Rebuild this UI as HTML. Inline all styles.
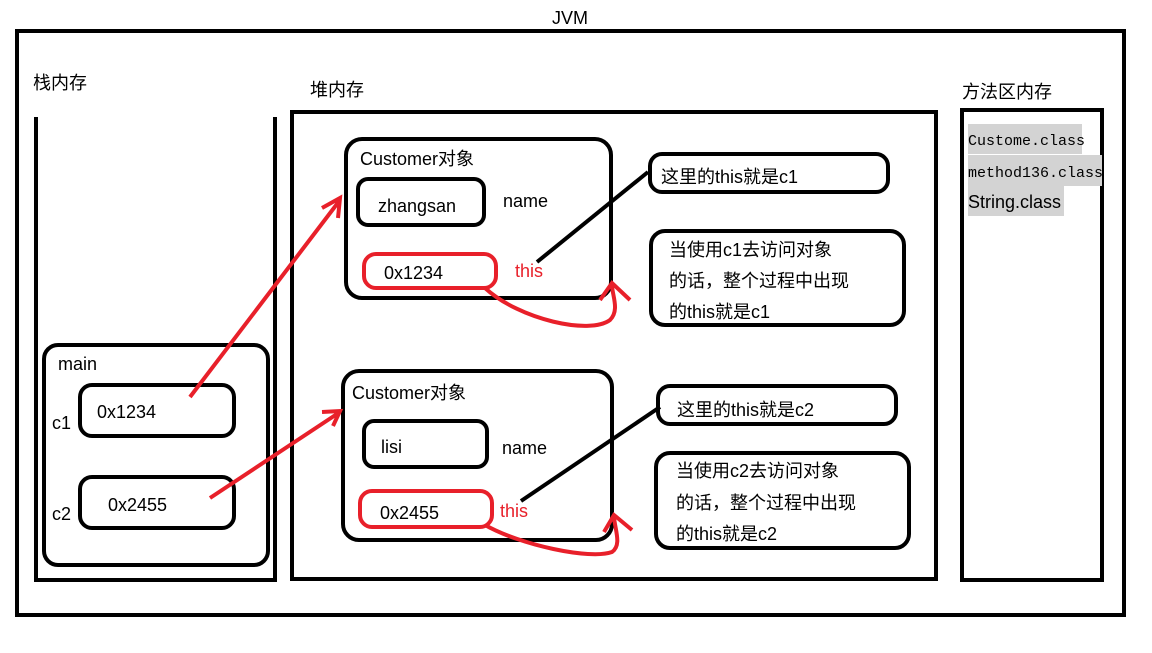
<!DOCTYPE html>
<html><head><meta charset="utf-8"><style>
body{margin:0;background:#fff;width:1152px;height:648px;overflow:hidden}
svg text{font-family:"Liberation Sans","Noto Sans CJK SC",sans-serif;font-size:18px;fill:#000}
</style></head><body>
<svg width="1152" height="648" xmlns="http://www.w3.org/2000/svg">
<g fill="none" stroke="#000" stroke-width="4">
<rect x="17" y="31" width="1107" height="584"/>
<path d="M36 117 V580 H275 V117"/>
<rect x="292" y="112" width="644" height="467"/>
<rect x="962" y="110" width="140" height="470"/>
<rect x="44" y="345" width="224" height="220" rx="14"/>
<rect x="80" y="385" width="154" height="51" rx="12"/>
<rect x="80" y="477" width="154" height="51" rx="12"/>
<rect x="346" y="139" width="265" height="159" rx="16"/>
<rect x="358" y="179" width="126" height="46" rx="10"/>
<rect x="343" y="371" width="269" height="169" rx="16"/>
<rect x="364" y="421" width="123" height="46" rx="10"/>
<rect x="650" y="154" width="238" height="38" rx="12"/>
<rect x="651" y="231" width="253" height="94" rx="14"/>
<rect x="658" y="386" width="238" height="38" rx="12"/>
<rect x="656" y="453" width="253" height="95" rx="14"/>
<path d="M537 262 L648 172"/>
<path d="M521 501 L660 407"/>
</g>
<g fill="none" stroke="#e8202a" stroke-width="4">
<rect x="364" y="254" width="132" height="34" rx="12"/>
<rect x="360" y="491" width="132" height="36" rx="12"/>
<path d="M190 397 L340 200 M322 208 L340 198 L338 218"/>
<path d="M210 498 L340 412 M322 412 L340 411 L333 426"/>
<path d="M485 288 C520 320 590 335 610 320 C620 310 612 295 612 285 M600 300 L612 283 L630 300"/>
<path d="M485 525 C520 545 590 560 612 552 C622 545 615 530 614 517 M604 532 L614 515 L632 530"/>
</g>
<rect x="968" y="124" width="114" height="30" fill="#d3d3d3"/>
<rect x="968" y="155" width="134" height="31" fill="#d3d3d3"/>
<rect x="968" y="186" width="96" height="30" fill="#d3d3d3"/>
<text x="552" y="24">JVM</text>
<text x="33" y="89">栈内存</text>
<text x="310" y="96">堆内存</text>
<text x="962" y="98">方法区内存</text>
<text x="968" y="145" style="font-family:'Liberation Mono',monospace;font-size:15px">Custome.class</text>
<text x="968" y="177" style="font-family:'Liberation Mono',monospace;font-size:15px">method136.class</text>
<text x="968" y="208">String.class</text>
<text x="58" y="370">main</text>
<text x="52" y="429">c1</text>
<text x="97" y="418">0x1234</text>
<text x="52" y="520">c2</text>
<text x="108" y="511">0x2455</text>
<text x="360" y="165">Customer对象</text>
<text x="378" y="212">zhangsan</text>
<text x="503" y="207">name</text>
<text x="384" y="279">0x1234</text>
<text x="515" y="277" style="fill:#e8202a">this</text>
<text x="352" y="399">Customer对象</text>
<text x="381" y="453">lisi</text>
<text x="502" y="454">name</text>
<text x="380" y="519">0x2455</text>
<text x="500" y="517" style="fill:#e8202a">this</text>
<text x="661" y="183">这里的this就是c1</text>
<text x="669" y="256">当使用c1去访问对象</text>
<text x="669" y="287">的话，整个过程中出现</text>
<text x="669" y="318">的this就是c1</text>
<text x="677" y="416">这里的this就是c2</text>
<text x="676" y="477">当使用c2去访问对象</text>
<text x="676" y="509">的话，整个过程中出现</text>
<text x="676" y="540">的this就是c2</text>
</svg>
</body></html>
